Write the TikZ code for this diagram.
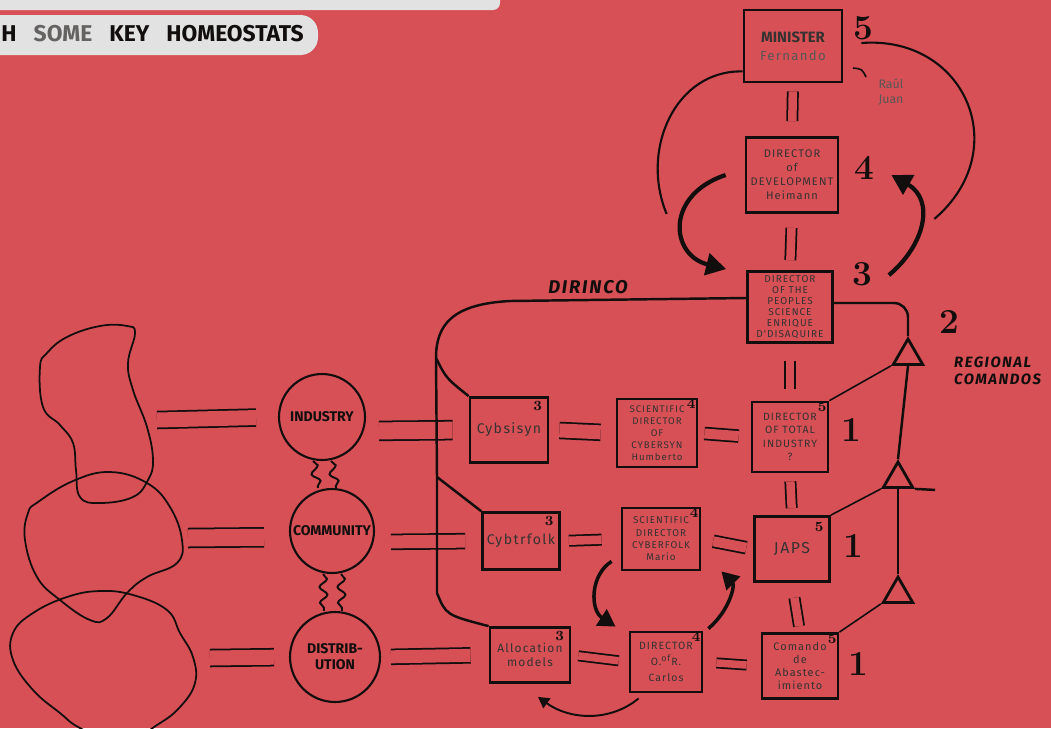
\documentclass[tikz,border=0pt]{standalone}
\usepackage{fontspec}
\setsansfont{Fira Sans}
\newfontfamily\handfont[LetterSpace=10]{Fira Sans}
\usetikzlibrary{positioning,shapes.geometric,arrows.meta,decorations.pathmorphing}
\definecolor{bgred}{RGB}{214,80,85}
\definecolor{banner}{RGB}{226,226,226}
\definecolor{ink}{RGB}{18,14,14}

\begin{document}
\begin{tikzpicture}[x=0.02cm,y=-0.02cm,
	box/.style={draw=ink, line width=1.6pt, inner sep=1pt, align=center, text=ink!85,
		font=\handfont\fontsize{6}{7.5}\selectfont},
	hub/.style={circle, draw=ink, line width=1.2pt, inner sep=0pt, align=center, text=ink,
		font=\sffamily\bfseries\fontsize{8}{9}\selectfont},
	eq/.style={draw=ink, line width=1pt, double=bgred, double distance=0.2cm},
	wavy/.style={draw=ink, line width=1.1pt, decorate, decoration={snake, amplitude=2.2pt, segment length=9pt}},
	bus/.style={draw=ink, line width=1.4pt},
	fine/.style={draw=ink, line width=0.9pt},
	blob/.style={draw=ink, line width=1pt},
	tri/.style={regular polygon, regular polygon sides=3, draw=ink, fill=bgred, line width=1.6pt, minimum size=0.68cm, inner sep=0pt},
	lvl/.style={font=\fontsize{20}{20}\selectfont\bfseries, text=ink, inner sep=0pt},
	tag/.style={font=\fontsize{8}{8}\selectfont\bfseries, text=ink, inner sep=0pt},
	bigarrow/.style={draw=ink, line width=2.4pt, -{Triangle[length=0.4cm,width=0.44cm]}},
	smallarrow/.style={draw=ink, line width=2pt, -{Triangle[length=0.34cm,width=0.38cm]}},
	]
	\useasboundingbox (0,0) rectangle (1051,728);
	\clip (0,0) rectangle (1051,728);
	\fill[bgred] (0,0) rectangle (1051,728);

	% title strips
	\fill[banner, rounded corners=4pt] (-30,-30) rectangle (500,10);
	\fill[banner, rounded corners=10pt] (-30,15) rectangle (318,55);
	\node[anchor=west, inner sep=0pt, text=ink, font=\sffamily\bfseries\fontsize{13}{14}\selectfont] (title) at (1,34)
		{H\hspace{0.75em}{\color{ink!65}SOME}\hspace{0.75em}KEY\hspace{0.75em}HOMEOSTATS};

	% blobs
	\draw[blob] plot[smooth cycle, tension=0.7] coordinates {(100,326) (127,326) (135,333) (128,363) (133,390) (147,427) (153,460) (148,480) (133,497) (100,503) (80,497) (76,470) (73,443) (60,425) (43,407) (40,367) (47,353) (67,337)};
	\draw[blob] plot[smooth cycle, tension=0.7] coordinates {(38,502) (73,481) (110,472) (147,483) (170,507) (182,540) (177,563) (147,577) (127,593) (107,618) (90,620) (60,600) (37,577) (25,540) (28,513)};
	\draw[blob] plot[smooth cycle, tension=0.7] coordinates {(13,633) (33,613) (67,597) (100,591) (133,595) (167,610) (180,633) (193,657) (195,683) (180,707) (157,725) (120,745) (80,728) (60,713) (33,690) (13,660)};
	\coordinate (blobA) at (157,420);
	\coordinate (blobB) at (188,538);
	\coordinate (blobC) at (210,658);

	% homeostats
	\node[hub, minimum size=1.72cm] (industry) at (322,417) {INDUSTRY};
	\node[hub, minimum size=1.68cm] (community) at (332,531) {COMMUNITY};
	\node[hub, minimum size=1.8cm] (distrib) at (335,657) {DISTRIB-\\UTION};

	% boxes
	\node[box, minimum width=1.96cm, minimum height=1.44cm] (minister) at (793,46)
		{{\sffamily\bfseries\fontsize{8.5}{10}\selectfont MINISTER}\\[3pt]{\fontsize{7.5}{8}\selectfont\color{ink!70}Fernando}};
	\node[box, minimum width=1.84cm, minimum height=1.5cm, font=\handfont\fontsize{6.3}{8}\selectfont] (dev) at (792,175)
		{DIRECTOR\\of\\DEVELOPMENT\\Heimann};
	\node[box, minimum width=1.7cm, minimum height=1.42cm, font=\handfont\fontsize{5.7}{6.3}\selectfont] (peoples) at (790,307)
		{DIRECTOR\\OF THE\\PEOPLES\\SCIENCE\\ENRIQUE\\D'DISAQUIRE};
	\node[box, minimum width=1.56cm, minimum height=1.3cm, font=\handfont\fontsize{8}{9}\selectfont] (cybsisyn) at (509,430) {Cybsisyn};
	\node[box, minimum width=1.6cm, minimum height=1.36cm, font=\handfont\fontsize{5.5}{6.8}\selectfont] (sdcybersyn) at (657,433)
		{SCIENTIFIC\\DIRECTOR\\OF\\CYBERSYN\\Humberto};
	\node[box, minimum width=1.52cm, minimum height=1.4cm, font=\handfont\fontsize{6}{7.6}\selectfont] (totalind) at (790,437)
		{DIRECTOR\\OF TOTAL\\INDUSTRY\\?};
	\node[box, minimum width=1.54cm, minimum height=1.14cm, font=\handfont\fontsize{8}{9}\selectfont] (cybsfolk) at (521,541) {Cybtrfolk};
	\node[box, minimum width=1.56cm, minimum height=1.24cm, font=\handfont\fontsize{5.6}{7}\selectfont] (sdcyberfolk) at (661,539)
		{SCIENTIFIC\\DIRECTOR\\CYBERFOLK\\Mario};
	\node[box, minimum width=1.5cm, minimum height=1.3cm, font=\handfont\fontsize{9}{10}\selectfont] (japs) at (792,549) {JAPS};
	\node[box, minimum width=1.6cm, minimum height=1.1cm, font=\handfont\fontsize{6.8}{8}\selectfont] (alloc) at (530,655)
		{Allocation\\models};
	\node[box, minimum width=1.44cm, minimum height=1.2cm, font=\handfont\fontsize{6}{9}\selectfont] (dor) at (666,662)
		{DIRECTOR\\O.\textsuperscript{of}R.\\Carlos};
	\node[box, minimum width=1.52cm, minimum height=1.3cm, font=\handfont\fontsize{6.2}{7.5}\selectfont] (comando) at (800,666)
		{Comando\\de\\Abastec-\\imiento};

	% small numbers in the boxes
	\node[tag, below left=3pt and 4pt of cybsisyn.north east] (n-cybsisyn) {3};
	\node[tag, below left=1pt and 1.5pt of sdcybersyn.north east] (n-sdcybersyn) {4};
	\node[tag, below left=1pt and 1.5pt of totalind.north east] (n-totalind) {5};
	\node[tag, below left=3pt and 4pt of cybsfolk.north east] (n-cybsfolk) {3};
	\node[tag, below left=1pt and 1.5pt of sdcyberfolk.north east] (n-sdcyberfolk) {4};
	\node[tag, below left=4pt and 4pt of japs.north east] (n-japs) {5};
	\node[tag, below left=3pt and 4pt of alloc.north east] (n-alloc) {3};
	\node[tag, below left=1pt and 1.5pt of dor.north east] (n-dor) {4};
	\node[tag, below left=1pt and 1.5pt of comando.north east] (n-comando) {5};

	% levels
	\node[lvl] (l-min) at (863,28) {5};
	\node[lvl] (l-dev) at (864,168) {4};
	\node[lvl] (l-peoples) at (862,274) {3};
	\node[lvl] (l-regional) at (949,322) {2};
	\node[lvl] (l-row1) at (851,430) {1};
	\node[lvl] (l-row2) at (853,546) {1};
	\node[lvl] (l-row3) at (858,664) {1};

	\node[anchor=west, align=left, text=ink, font=\handfont\bfseries\itshape\fontsize{8.5}{10}\selectfont] (regional) at (948,371)
		{REGIONAL\\COMANDOS};
	\node[text=ink, font=\handfont\bfseries\itshape\fontsize{10.5}{11}\selectfont] (dirinco) at (588,287) {DIRINCO};
	\node[align=left, text=ink!70, font=\sffamily\fontsize{7}{8.5}\selectfont] (raul) at (891,92) {Raúl\\Juan};
	\draw[fine] (853,68) .. controls (862,69) .. (866,77);

	% equals links
	\draw[eq, double distance=0.3cm, shorten >=0.44cm] (blobA) -- (industry.west);
	\draw[eq, double distance=0.34cm, shorten >=0.5cm] (blobB) -- ([yshift=-0.12cm]community.west);
	\draw[eq, double distance=0.3cm, shorten >=0.3cm] (blobC) -- (distrib.west);
	\draw[eq, double distance=0.34cm, shorten <=0.26cm, shorten >=0.32cm] ([yshift=-0.28cm]industry.east) -- (cybsisyn.west);
	\draw[eq, double distance=0.26cm, shorten <=0.32cm, shorten >=0.32cm] ([yshift=-0.22cm]community.east) -- (cybsfolk.west);
	\draw[eq, double distance=0.26cm, shorten <=0.2cm, shorten >=0.36cm] (distrib.east) -- (alloc.west);
	\draw[eq, double distance=0.28cm, shorten <=0.2cm, shorten >=0.3cm] (cybsisyn.east) -- (sdcybersyn.west);
	\draw[eq, double distance=0.2cm, shorten <=0.12cm, shorten >=0.24cm] (sdcybersyn.east) -- (totalind.west);
	\draw[eq, double distance=0.17cm, shorten <=0.16cm, shorten >=0.38cm] (cybsfolk.east) -- (sdcyberfolk.west);
	\draw[eq, double distance=0.2cm, shorten <=0.24cm, shorten >=0.14cm] (sdcyberfolk.east) -- (japs.west);
	\draw[eq, double distance=0.15cm, shorten <=0.14cm, shorten >=0.2cm] (alloc.east) -- (dor.west);
	\draw[eq, double distance=0.15cm, shorten <=0.26cm, shorten >=0.28cm] (dor.east) -- (comando.west);
	\draw[eq, double distance=0.17cm, shorten <=0.16cm, shorten >=0.3cm] (minister.south) -- (dev.north);
	\draw[eq, double distance=0.17cm, shorten <=0.28cm, shorten >=0.2cm] (dev.south) -- (peoples.north);
	\draw[eq, double distance=0.17cm, shorten <=0.34cm, shorten >=0.24cm] (peoples.south) -- (totalind.north);
	\draw[eq, double distance=0.17cm, shorten <=0.16cm, shorten >=0.14cm] (totalind.south) -- (japs.north);
	\draw[eq, double distance=0.17cm, shorten <=0.3cm, shorten >=0.12cm] (japs.south) -- (comando.north);

	% wavy couplings
	\draw[wavy] ([xshift=-0.18cm]industry.south) -- ([xshift=-0.28cm]community.north);
	\draw[wavy] ([xshift=0.18cm]industry.south) -- ([xshift=0.08cm]community.north);
	\draw[wavy] ([xshift=-0.18cm]community.south) -- ([xshift=-0.22cm]distrib.north);
	\draw[wavy] ([xshift=0.18cm]community.south) -- ([xshift=0.14cm]distrib.north);

	% DIRINCO bus
	\coordinate (busTop) at (436,358);
	\coordinate (busMid) at (437,477);
	\coordinate (busLow) at (437,593);
	\draw[bus] ([yshift=0.18cm]peoples.west) -- (510,301) .. controls (452,304) and (436,325) .. (busTop) -- (busMid) -- (busLow);
	\draw[bus] (busTop) .. controls (446,378) .. (cybsisyn.north west);
	\draw[bus] (busMid) -- (cybsfolk.north west);
	\draw[bus] (busLow) .. controls (446,615) .. (alloc.north west);

	% regional comandos
	\node[tri] (t1) at (908,356) {};
	\node[tri] (t2) at (898,479) {};
	\node[tri] (t3) at (898,594) {};
	\draw[bus, rounded corners=8pt] ([yshift=0.08cm]peoples.east) -| (t1.corner 1);
	\draw[bus] (t1.side 2) -- (t2.corner 1);
	\draw[bus] (t2.side 2) -- (t3.corner 1);
	\draw[fine] (t1.corner 2) -- (totalind.north east);
	\draw[fine] (t2.corner 2) -- (japs.north east);
	\draw[fine] (t3.corner 2) -- (comando.north east);
	\draw[bus] (t2.corner 3) -- ++(20,1);

	% loops round the top
	\draw[bus, line width=1.2pt] ([yshift=0.24cm]minister.south west) .. controls (675,70) and (640,150) .. ([xshift=-1.56cm]dev.south west);
	\draw[bus, line width=1.2pt] ([xshift=0.36cm,yshift=0.06cm]minister.east) .. controls (965,35) and (1015,150) .. ([xshift=1.9cm,yshift=-0.1cm]dev.south east);
	\draw[bigarrow] ([xshift=-0.38cm]dev.west) .. controls (665,195) and (670,255) .. ([xshift=-0.4cm,yshift=0.02cm]peoples.north west);
	\draw[bigarrow] ([xshift=1.1cm,yshift=-0.1cm]peoples.north east) .. controls (925,245) and (935,200) .. ([xshift=1.04cm]dev.east);

	% loops round O.R.
	\draw[smallarrow] ([xshift=-0.18cm,yshift=0.2cm]sdcyberfolk.south west) .. controls (590,575) and (590,610) .. ([xshift=-0.26cm,yshift=0.08cm]dor.north west);
	\draw[smallarrow] ([xshift=0.1cm,yshift=0.04cm]dor.north east) .. controls (730,610) and (735,585) .. ([xshift=0.4cm]sdcyberfolk.south east);
	\draw[fine, line width=1.1pt, -{Triangle[length=0.22cm,width=0.24cm]}] ([xshift=0.2cm,yshift=-0.1cm]dor.south west) .. controls (610,722) and (570,720) .. ([xshift=0.16cm,yshift=-0.26cm]alloc.south);
\end{tikzpicture}
\end{document}
